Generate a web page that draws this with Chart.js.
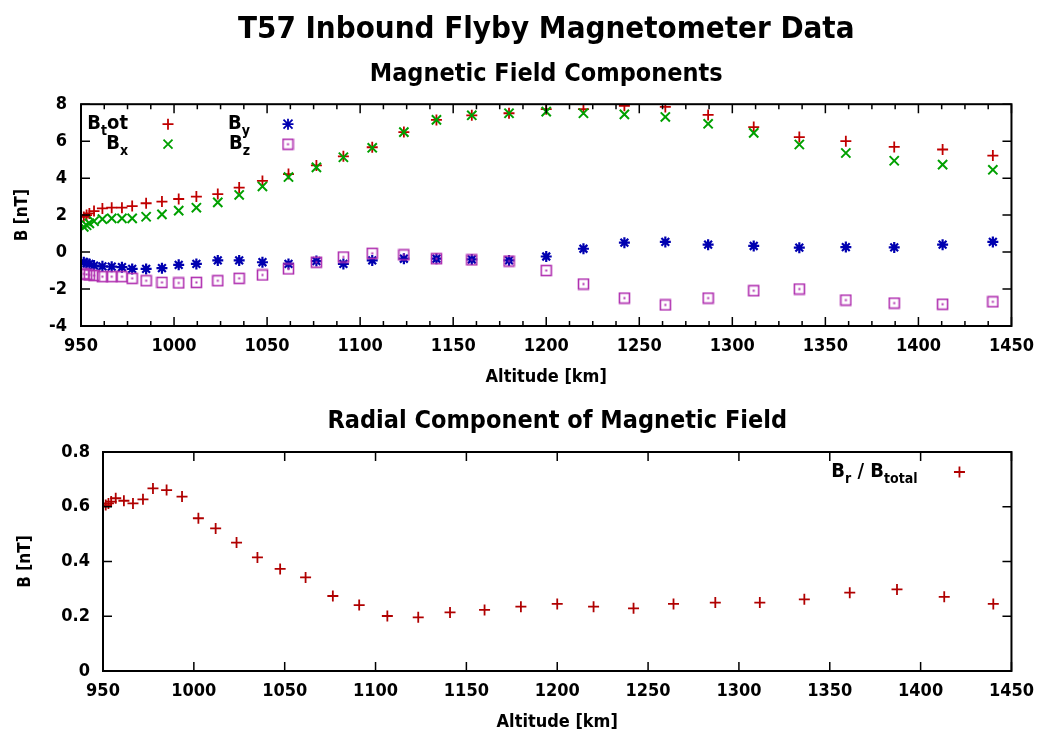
<!DOCTYPE html>
<html>
<head>
<meta charset="utf-8">
<script src="https://cdn.jsdelivr.net/npm/chart.js@4.4.1/dist/chart.umd.min.js"></script>
<style>
html, body { margin: 0; padding: 0; background: #fff; }
#wrap { position: relative; width: 1044px; height: 736px; }
.box { position: absolute; left: 0; width: 1044px; }
#topBox { top: 0; height: 390px; }
#bottomBox { top: 395px; height: 340px; }
</style>
</head>
<body>
<div id="wrap">
  <div class="box" id="topBox"><canvas id="fieldChart"></canvas></div>
  <div class="box" id="bottomBox"><canvas id="ratioChart"></canvas></div>
</div>
<script>
// altitude of each sample [km]
const altitudes = [951.5, 953, 954.5, 957, 961.5, 966.5, 972, 977.5, 985, 993.5,
  1002.5, 1012, 1023.5, 1035, 1047.5, 1061.5, 1076.5, 1091, 1106.5, 1123.5,
  1141, 1160, 1180, 1200, 1220, 1242, 1264, 1287, 1311.5, 1336,
  1361, 1387, 1413, 1440];

// field components [nT]
const bTot = [1.9, 2.0, 2.09, 2.22, 2.36, 2.4, 2.4, 2.49, 2.64, 2.73,
  2.87, 3.0, 3.14, 3.49, 3.85, 4.22, 4.69, 5.18, 5.67, 6.49,
  7.15, 7.4, 7.51, 7.73, 7.73, 7.91, 7.85, 7.42, 6.76, 6.22,
  6.0, 5.69, 5.55, 5.22];
const bX = [1.36, 1.45, 1.55, 1.67, 1.78, 1.82, 1.82, 1.82, 1.91, 2.04,
  2.24, 2.4, 2.69, 3.09, 3.55, 4.06, 4.58, 5.13, 5.64, 6.49,
  7.15, 7.4, 7.51, 7.6, 7.51, 7.45, 7.31, 6.94, 6.45, 5.82,
  5.36, 4.94, 4.73, 4.45];
const bY = [-0.55, -0.6, -0.64, -0.73, -0.77, -0.79, -0.82, -0.91, -0.91, -0.87,
  -0.69, -0.64, -0.45, -0.45, -0.55, -0.64, -0.49, -0.64, -0.45, -0.36,
  -0.36, -0.4, -0.45, -0.24, 0.18, 0.51, 0.55, 0.4, 0.33, 0.24,
  0.27, 0.25, 0.4, 0.55];
const bZ = [-1.18, -1.21, -1.24, -1.27, -1.33, -1.33, -1.33, -1.42, -1.55, -1.64,
  -1.67, -1.64, -1.55, -1.42, -1.24, -0.91, -0.55, -0.27, -0.07, -0.15,
  -0.36, -0.42, -0.49, -1.0, -1.73, -2.49, -2.86, -2.49, -2.09, -2.0,
  -2.6, -2.76, -2.82, -2.69];

// B_r / B_total
const radialRatio = [0.606, 0.612, 0.619, 0.631, 0.622, 0.612, 0.627, 0.667, 0.661, 0.637,
  0.558, 0.521, 0.469, 0.415, 0.373, 0.342, 0.274, 0.241, 0.201, 0.196,
  0.214, 0.223, 0.235, 0.245, 0.235, 0.229, 0.245, 0.25, 0.25, 0.262,
  0.286, 0.298, 0.271, 0.245];

const altRange = [950, 1450];
const altStep = 50;
const fieldRange = [-4, 8];
const fieldStep = 2;
const ratioRange = [0, 0.8];
const ratioStep = 0.2;

const FONT = '"Liberation Sans Narrow", "DejaVu Sans Condensed", "Liberation Sans", Arial, sans-serif';
Chart.defaults.color = '#000';
Chart.defaults.font.family = FONT;

const colTot = '#c00000';
const colX = '#00a000';
const colY = '#0000b0';
const colZ = '#b030b0';
const colRatio = '#b00000';

// open square with a dot in the middle (gnuplot style)
function squareDot(color) {
  const c = document.createElement('canvas');
  c.width = 13; c.height = 13;
  const g = c.getContext('2d');
  g.strokeStyle = color;
  g.lineWidth = 1.6;
  g.strokeRect(1.5, 1.5, 10, 10);
  g.fillStyle = color;
  g.fillRect(5.5, 5.5, 2, 2);
  return c;
}
const zMarker = squareDot(colZ);

function pts(ys) {
  return altitudes.map((a, i) => ({ x: a, y: ys[i] }));
}

function drawMarker(ctx, style, x, y, color) {
  ctx.save();
  ctx.strokeStyle = color;
  ctx.lineWidth = 1.8;
  ctx.beginPath();
  if (style === 'cross' || style === 'star') {
    ctx.moveTo(x - 5.5, y); ctx.lineTo(x + 5.5, y);
    ctx.moveTo(x, y - 5.5); ctx.lineTo(x, y + 5.5);
  }
  if (style === 'crossRot' || style === 'star') {
    ctx.moveTo(x - 4.5, y - 4.5); ctx.lineTo(x + 4.5, y + 4.5);
    ctx.moveTo(x - 4.5, y + 4.5); ctx.lineTo(x + 4.5, y - 4.5);
  }
  ctx.stroke();
  if (style instanceof HTMLCanvasElement) {
    ctx.drawImage(style, x - 6.5, y - 6.5);
  }
  ctx.restore();
}

// text with subscripts: parts = [[text, isSub], ...], right aligned
function drawSubText(ctx, parts, right, y) {
  const main = 'bold 20px ' + FONT;
  const sub = 'bold 14px ' + FONT;
  let total = 0;
  parts.forEach(p => { ctx.font = p[1] ? sub : main; total += ctx.measureText(p[0]).width; });
  let x = right - total;
  ctx.fillStyle = '#000';
  ctx.textBaseline = 'middle';
  ctx.textAlign = 'left';
  parts.forEach(p => {
    ctx.font = p[1] ? sub : main;
    ctx.fillText(p[0], x, p[1] ? y + 7 : y);
    x += ctx.measureText(p[0]).width;
  });
}

// box around plot with inward ticks on all sides
const framePlugin = {
  id: 'frame',
  afterDraw(chart, args, opts) {
    const { ctx, chartArea: a, scales: { x, y } } = chart;
    ctx.save();
    ctx.strokeStyle = '#000';
    ctx.lineWidth = 1.5;
    ctx.beginPath();
    const xs = opts.xMinor || opts.xStep;
    const n = Math.round((x.max - x.min) / xs);
    for (let i = 0; i <= n; i++) {
      const v = x.min + i * xs;
      const px = x.getPixelForValue(v);
      const major = (i * xs) % opts.xStep === 0;
      const len = major ? 9 : 5;
      ctx.moveTo(px, a.bottom); ctx.lineTo(px, a.bottom - len);
      ctx.moveTo(px, a.top); ctx.lineTo(px, a.top + len);
    }
    const m = Math.round((y.max - y.min) / opts.yStep);
    for (let i = 0; i <= m; i++) {
      const py = y.getPixelForValue(y.min + i * opts.yStep);
      ctx.moveTo(a.left, py); ctx.lineTo(a.left + 9, py);
      ctx.moveTo(a.right, py); ctx.lineTo(a.right - 9, py);
    }
    ctx.stroke();
    ctx.lineWidth = 2;
    ctx.strokeRect(a.left, a.top, a.right - a.left, a.bottom - a.top);
    ctx.restore();
  }
};

const keyPlugin = {
  id: 'key',
  afterDraw(chart, args, opts) {
    const { ctx, chartArea: a } = chart;
    opts.items.forEach(it => {
      const ox = it.fromRight ? a.right : a.left;
      drawSubText(ctx, it.parts, ox + it.textX, a.top + it.dy);
      drawMarker(ctx, it.marker, ox + it.markX, a.top + it.dy, it.color);
    });
  }
};

function xScale() {
  return {
    type: 'linear',
    min: altRange[0], max: altRange[1],
    ticks: { stepSize: altStep, autoSkip: false, maxRotation: 0, padding: 10,
      font: { size: 18, weight: 'bold' }, callback: v => String(v) },
    grid: { display: false, drawTicks: false },
    border: { display: false },
    title: { display: true, text: 'Altitude [km]', font: { size: 18, weight: 'bold' },
      padding: { top: 0, bottom: 2 } },
    afterFit: s => { s.height = 64; }
  };
}

function yScale(range, step, width, tickPad, titlePad, fmt) {
  return {
    type: 'linear',
    min: range[0], max: range[1],
    ticks: { stepSize: step, padding: tickPad, font: { size: 18, weight: 'bold' }, callback: fmt },
    grid: { display: false, drawTicks: false },
    border: { display: false },
    title: { display: true, text: 'B [nT]', font: { size: 17, weight: 'bold' },
      padding: { top: titlePad, bottom: 0 } },
    afterFit: s => { s.width = width; }
  };
}

const common = {
  responsive: true,
  maintainAspectRatio: false,
  animation: false,
  events: []
};

new Chart(document.getElementById('fieldChart'), {
  type: 'scatter',
  data: {
    datasets: [
      { label: 'B_tot', data: pts(bTot), order: 4, pointStyle: 'cross', pointRadius: 5.5,
        borderColor: colTot, backgroundColor: colTot, borderWidth: 1.8 },
      { label: 'B_x', data: pts(bX), order: 3, pointStyle: 'crossRot', pointRadius: 6.5,
        borderColor: colX, backgroundColor: colX, borderWidth: 2 },
      { label: 'B_y', data: pts(bY), order: 2, pointStyle: 'star', pointRadius: 5.5,
        borderColor: colY, backgroundColor: colY, borderWidth: 2.2 },
      { label: 'B_z', data: pts(bZ), order: 1, pointStyle: zMarker,
        borderColor: colZ, backgroundColor: colZ }
    ]
  },
  options: {
    ...common,
    layout: { padding: { top: 0, left: 0, right: 30, bottom: 0 } },
    scales: {
      x: xScale(),
      y: yScale(fieldRange, fieldStep, 81, 14, 12, v => String(v))
    },
    plugins: {
      legend: { display: false },
      tooltip: { enabled: false },
      title: { display: true, fullSize: false, text: 'T57 Inbound Flyby Magnetometer Data',
        font: { size: 31, weight: 'bold' }, padding: { top: 11, bottom: 11 } },
      subtitle: { display: true, fullSize: false, text: 'Magnetic Field Components', color: '#000',
        font: { size: 25, weight: 'bold' }, padding: { top: 0, bottom: 15 } },
      frame: { xStep: altStep, xMinor: 12.5, yStep: fieldStep },
      key: { items: [
        { parts: [['B', 0], ['t', 1], ['ot', 0]], textX: 47, markX: 87, dy: 20, marker: 'cross', color: colTot },
        { parts: [['B', 0], ['x', 1]], textX: 47, markX: 87, dy: 40, marker: 'crossRot', color: colX },
        { parts: [['B', 0], ['y', 1]], textX: 169, markX: 207, dy: 20, marker: 'star', color: colY },
        { parts: [['B', 0], ['z', 1]], textX: 169, markX: 207, dy: 40, marker: zMarker, color: colZ }
      ] }
    }
  },
  plugins: [framePlugin, keyPlugin]
});

new Chart(document.getElementById('ratioChart'), {
  type: 'scatter',
  data: {
    datasets: [
      { label: 'B_r / B_total', data: pts(radialRatio), pointStyle: 'cross', pointRadius: 5.5,
        borderColor: colRatio, backgroundColor: colRatio, borderWidth: 1.8 }
    ]
  },
  options: {
    ...common,
    layout: { padding: { top: 0, left: 0, right: 32, bottom: 0 } },
    scales: {
      x: xScale(),
      y: yScale(ratioRange, ratioStep, 103, 13, 15, v => (v === 0 ? '0' : v.toFixed(1)))
    },
    plugins: {
      legend: { display: false },
      tooltip: { enabled: false },
      title: { display: true, fullSize: false, text: 'Radial Component of Magnetic Field',
        font: { size: 25, weight: 'bold' }, padding: { top: 11, bottom: 16 } },
      frame: { xStep: altStep, yStep: ratioStep },
      key: { items: [
        { parts: [['B', 0], ['r', 1], [' / B', 0], ['total', 1]], fromRight: true, textX: -94, markX: -52, dy: 20, marker: 'cross', color: colRatio }
      ] }
    }
  },
  plugins: [framePlugin, keyPlugin]
});
</script>
</body>
</html>
